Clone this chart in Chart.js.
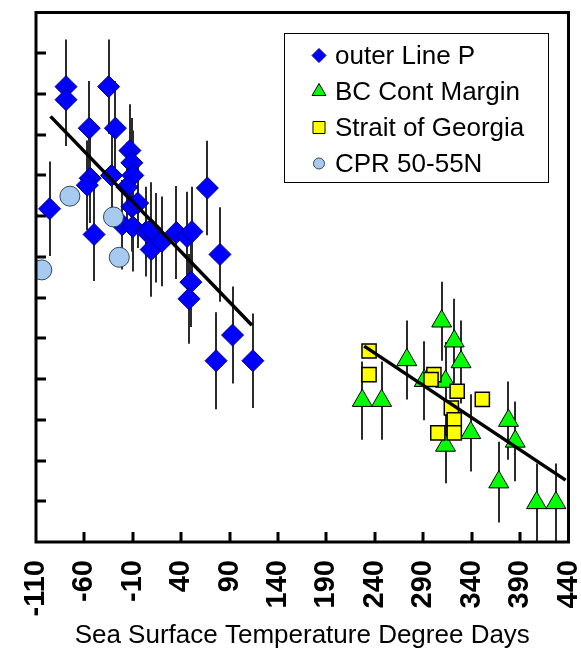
<!DOCTYPE html>
<html>
<head>
<meta charset="utf-8">
<script src="https://cdn.jsdelivr.net/npm/chart.js@4.4.1/dist/chart.umd.min.js"></script>
<style>
  html, body { margin: 0; padding: 0; background: #fff; }
  canvas { display: block; }
</style>
</head>
<body>
<canvas id="myChart" width="581" height="651"></canvas>
<script>
// axis ticks (degree days)
const xTicks = [-110, -60, -10, 40, 90, 140, 190, 240, 290, 340, 390, 440];
const yMin = 0;
const yMax = 13;

// outer Line P
const lineP_x = [-96, -79, -79, -55, -35, -28, -13, -11, -10, -54, -57, -32, -16, -11, -5, -21, -10, -50, 4, 14, 9, 9, 20, 35, 46, 51, 67, 80, 50, 48, 76, 93, 114];
const lineP_y = [8.18, 11.18, 10.86, 10.16, 11.18, 10.16, 9.61, 9.31, 9.0, 8.93, 8.76, 9.0, 8.71, 8.23, 8.32, 7.79, 7.74, 7.55, 7.62, 7.47, 7.67, 7.18, 7.38, 7.6, 7.5, 7.62, 8.69, 7.06, 6.38, 5.97, 4.45, 5.08, 4.45];
const lineP_err = [1.16, 1.16, 1.14, 1.16, 1.16, 1.16, 1.14, 1.1, 1.1, 1.1, 1.1, 1.1, 1.1, 1.1, 1.1, 1.1, 1.1, 1.14, 1.1, 1.1, 1.16, 1.16, 1.1, 1.14, 1.1, 1.1, 1.16, 1.16, 1.1, 1.1, 1.19, 1.19, 1.16];

// BC Cont Margin
const bc_x = [227, 247, 273, 309, 322, 329, 313, 291, 313, 339, 378, 385, 368, 407, 427];
const bc_y = [3.47, 3.47, 4.47, 5.42, 4.93, 4.42, 3.94, 3.96, 2.37, 2.68, 2.98, 2.47, 1.47, 0.96, 0.96];
const bc_err = [0.96, 0.96, 0.97, 0.97, 1.04, 1.02, 0.97, 0.97, 0.93, 0.95, 0.96, 0.98, 0.99, 0.97, 0.97];

// Strait of Georgia
const sog_x = [234, 234, 301, 298, 325, 351, 319, 322, 305, 322];
const sog_y = [4.69, 4.11, 4.11, 3.99, 3.7, 3.5, 3.29, 3.0, 2.68, 2.68];

// CPR 50-55N
const cpr_x = [-104, -75, -30, -24];
const cpr_y = [6.68, 8.49, 7.98, 6.99];

// fitted trend lines, end points
const trendP_x = [-95, 113];
const trendP_y = [10.45, 5.32];
const trendS_x = [229, 437];
const trendS_y = [4.81, 1.52];

const pts = (xs, ys) => xs.map((x, i) => ({ x: x, y: ys[i] }));

const FONT = "'Liberation Sans', Arial, sans-serif";

// error bars go under the markers, frame/ticks/legend on top
const decorations = {
  id: 'decorations',
  beforeDatasetsDraw(chart) {
    const ctx = chart.ctx, xs = chart.scales.x, ys = chart.scales.y, a = chart.chartArea;
    ctx.save();
    ctx.beginPath();
    ctx.rect(a.left, a.top, a.right - a.left, a.bottom - a.top);
    ctx.clip();
    ctx.strokeStyle = '#2b2b2b';
    ctx.lineWidth = 2;
    chart.data.datasets.forEach(ds => {
      if (!ds.errors) return;
      ds.data.forEach((p, i) => {
        const px = Math.round(xs.getPixelForValue(p.x));
        ctx.beginPath();
        ctx.moveTo(px, ys.getPixelForValue(p.y + ds.errors[i]));
        ctx.lineTo(px, ys.getPixelForValue(p.y - ds.errors[i]));
        ctx.stroke();
      });
    });
    ctx.restore();
  },
  afterDraw(chart) {
    const ctx = chart.ctx, xs = chart.scales.x, ys = chart.scales.y, a = chart.chartArea;
    ctx.save();
    ctx.strokeStyle = '#000';
    ctx.lineWidth = 3;
    ctx.strokeRect(a.left, a.top, a.right - a.left, a.bottom - a.top);

    // inward tick marks
    ctx.beginPath();
    xTicks.slice(1, -1).forEach(v => {
      const px = Math.round(xs.getPixelForValue(v));
      ctx.moveTo(px, a.bottom);
      ctx.lineTo(px, a.bottom - 10);
    });
    for (let v = yMin + 1; v < yMax; v++) {
      const py = Math.round(ys.getPixelForValue(v));
      ctx.moveTo(a.left, py);
      ctx.lineTo(a.left + 10, py);
    }
    ctx.stroke();

    // legend box
    const box = { left: 284.5, top: 33.5, width: 264, height: 149 };
    ctx.lineWidth = 1;
    ctx.strokeStyle = '#000';
    ctx.strokeRect(box.left, box.top, box.width, box.height);
    ctx.font = '26px ' + FONT;
    ctx.textBaseline = 'middle';
    ctx.textAlign = 'left';
    chart.data.datasets
      .filter(ds => ds.legendRow !== undefined)
      .forEach(ds => {
        const cy = box.top + 22 + ds.legendRow * 36;
        ctx.fillStyle = ds.backgroundColor;
        ctx.strokeStyle = ds.borderColor;
        ctx.lineWidth = 1;
        Chart.helpers.drawPoint(ctx, {
          pointStyle: ds.pointStyle, rotation: 0,
          radius: ds.legendRadius, borderWidth: 1
        }, 319, cy);
        ctx.fillStyle = '#000';
        ctx.fillText(ds.label, 335, cy + 1);
      });
    ctx.restore();
  }
};

new Chart(document.getElementById('myChart'), {
  type: 'scatter',
  data: {
    datasets: [{
      type: 'line',
      label: 'trend outer Line P',
      data: pts(trendP_x, trendP_y),
      borderColor: '#000',
      borderWidth: 3.5,
      pointRadius: 0,
      fill: false,
      order: 0
    }, {
      type: 'line',
      label: 'trend shelf',
      data: pts(trendS_x, trendS_y),
      borderColor: '#000',
      borderWidth: 3.5,
      pointRadius: 0,
      fill: false,
      order: 0
    }, {
      label: 'CPR 50-55N',
      data: pts(cpr_x, cpr_y),
      pointStyle: 'circle',
      pointRadius: 10,
      backgroundColor: '#a6caf0',
      borderColor: '#33475c',
      borderWidth: 1,
      legendRow: 3,
      legendRadius: 5.5,
      order: 1
    }, {
      label: 'Strait of Georgia',
      data: pts(sog_x, sog_y),
      pointStyle: 'rect',
      pointRadius: 10,
      backgroundColor: '#ffff00',
      borderColor: '#000',
      borderWidth: 1.5,
      legendRow: 2,
      legendRadius: 8.5,
      order: 2
    }, {
      label: 'BC Cont Margin',
      data: pts(bc_x, bc_y),
      errors: bc_err,
      pointStyle: 'triangle',
      pointRadius: 11.5,
      backgroundColor: '#00ff00',
      borderColor: '#000',
      borderWidth: 1,
      legendRow: 1,
      legendRadius: 8,
      order: 3
    }, {
      label: 'outer Line P',
      data: pts(lineP_x, lineP_y),
      errors: lineP_err,
      pointStyle: 'rectRot',
      pointRadius: 11,
      backgroundColor: '#0000ff',
      borderColor: '#000080',
      borderWidth: 1,
      legendRow: 0,
      legendRadius: 7,
      order: 4
    }]
  },
  options: {
    responsive: false,
    animation: false,
    layout: { padding: { left: 36, top: 5, right: 10, bottom: 0 } },
    plugins: {
      legend: { display: false },
      tooltip: { enabled: false }
    },
    elements: { point: { hoverRadius: 10 } },
    scales: {
      x: {
        type: 'linear',
        min: -110,
        max: 440,
        grid: { display: false, drawTicks: false },
        border: { display: false },
        afterBuildTicks(axis) {
          axis.ticks = xTicks.map(v => ({ value: v }));
        },
        afterFit(axis) {
          axis.height = 109;
          axis.paddingLeft = 0;
          axis.paddingRight = 0;
        },
        ticks: {
          autoSkip: false,
          minRotation: 90,
          maxRotation: 90,
          padding: 18,
          color: '#000',
          font: { family: FONT, size: 29, weight: 'bold' }
        },
        title: {
          display: true,
          text: 'Sea Surface Temperature Degree Days',
          color: '#000',
          font: { family: FONT, size: 26 },
          padding: { top: 0, bottom: 0 }
        }
      },
      y: {
        type: 'linear',
        min: yMin,
        max: yMax,
        display: false
      }
    }
  },
  plugins: [decorations]
});
</script>
</body>
</html>
